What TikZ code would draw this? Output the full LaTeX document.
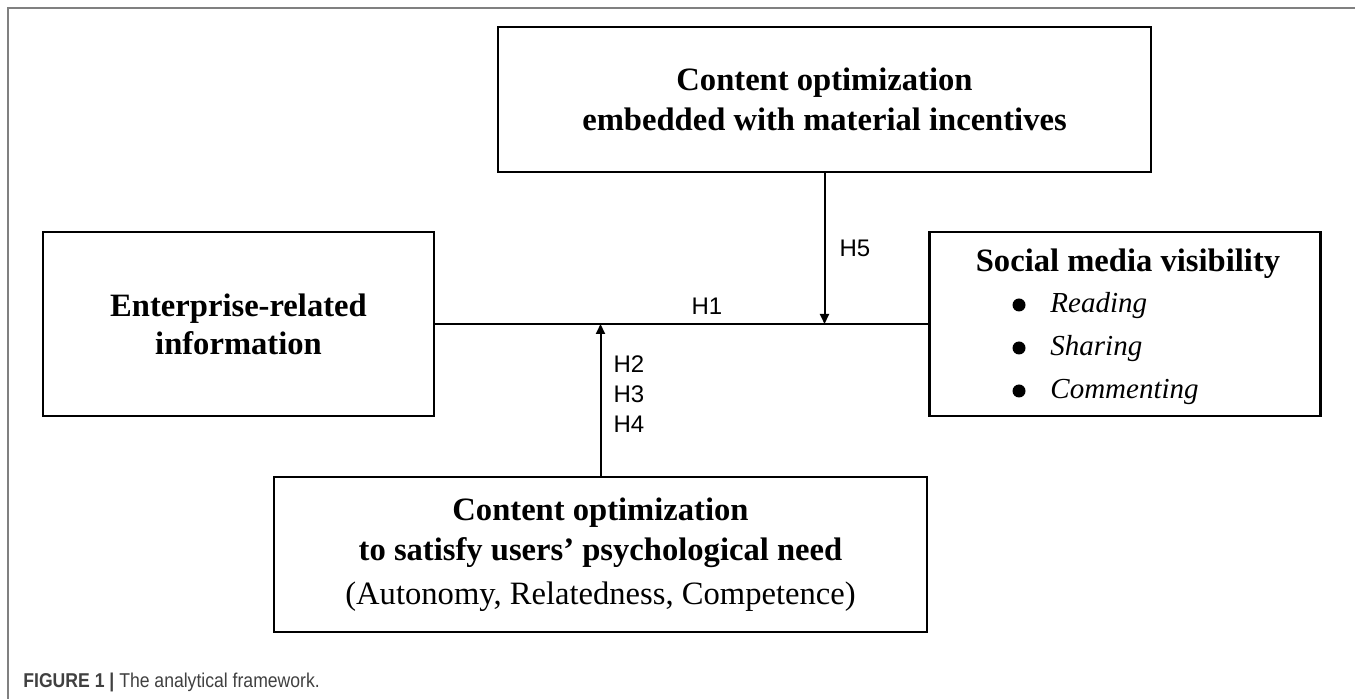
\documentclass[tikz,border=0pt]{standalone}
\usepackage{fontspec}
\setmainfont{Liberation Serif}
\newfontfamily\labelfont{Liberation Sans}
\newfontfamily\captionfont[FakeStretch=0.88]{Liberation Sans}
\usetikzlibrary{arrows.meta}

\begin{document}
\begin{tikzpicture}[x=0.5pt,y=-0.5pt]
  % Colors
  \colorlet{framecolor}{black!50}
  \colorlet{captioncolor}{black!75}

  % Styles
  \tikzstyle{box}=[draw,line width=1.25pt,inner sep=0pt,align=center,font=\fontsize{16.3}{20}\selectfont\bfseries]
  \tikzstyle{wide box}=[box,minimum width=326.5pt]
  \tikzstyle{side box}=[box,minimum width=195.5pt,minimum height=92pt]
  \tikzstyle{link}=[line width=1pt]
  \tikzstyle{arrow}=[link,-{Triangle[length=5pt,width=4.5pt]}]
  \tikzstyle{hyp}=[font=\labelfont\fontsize{12}{14}\selectfont,inner sep=0pt]
  \tikzstyle{item}=[font=\fontsize{14.5}{17}\selectfont\itshape,anchor=base west,inner sep=0pt]

  \useasboundingbox (0,0) rectangle (1355,699);

  % Frame
  \draw[framecolor,line width=1pt] (1355,8) -- (8,8) -- (8,699);

  % Boxes
  \node[side box,font=\fontsize{16.3}{19}\selectfont\bfseries] (enterprise) at (238.5,324) {Enterprise-related\\information};
  \node[side box] (visibility) at (1125,324) {};
  \node[wide box,minimum height=72.5pt] (material) at (824.5,99.5)
    {Content optimization\\embedded with material incentives};
  \node[wide box,minimum height=77.5pt] (psych) at (600.5,554.5)
    {Content optimization\\to satisfy users’ psychological need\\[2pt]{\mdseries (Autonomy, Relatedness, Competence)}};

  % Visibility measures
  \node[font=\fontsize{16.3}{20}\selectfont\bfseries,inner sep=0pt,anchor=base] (vishead) at (1128,272) {Social media visibility};
  \foreach \word [count=\i] in {Reading,Sharing,Commenting} {
    \fill (1019,262+43*\i) circle (6.5);
    \node[item] (item\i) at (1050,270+43*\i) {\word};
  }

  % Connectors
  \draw[link] (enterprise.east) -- (visibility.west);
  \draw[arrow] (material.south) -- (material.south |- enterprise.east);
  \draw[arrow] (psych.north) -- (psych.north |- enterprise.east);

  % Hypotheses
  \node[hyp] (h1) at (707,306) {H1};
  \node[hyp] (h5) at (855,248) {H5};
  \foreach \n/\y in {2/364,3/394,4/424}
    \node[hyp] (h\n) at (629,\y) {H\n};

  % Caption
  \node[anchor=west,inner sep=0pt,text=captioncolor,font=\captionfont\fontsize{10}{12}\selectfont] (caption) at (23,682)
    {\textbf{FIGURE 1 |} The analytical framework.};
\end{tikzpicture}
\end{document}
